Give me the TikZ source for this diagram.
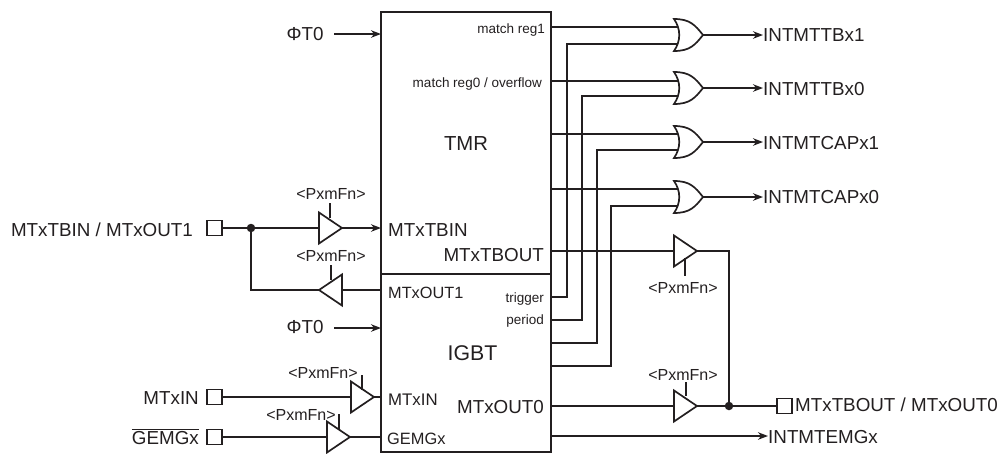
\documentclass[tikz,border=0pt]{standalone}
\usepackage{fontspec}
\setmainfont{Liberation Sans}
\usetikzlibrary{arrows.meta,shapes.geometric,calc}
\definecolor{ink}{HTML}{231F20}
\tikzset{
  x=1pt,y=-1pt,
  wire/.style={line width=1.7pt,draw=ink},
  arrowwire/.style={wire,-{Stealth[length=10pt,width=7.5pt]}},
  blockbox/.style={draw=ink,line width=2.2pt,rectangle,inner sep=0pt,outer sep=0pt,anchor=north west},
  pad/.style={draw=ink,fill=white,line width=1.7pt,rectangle,minimum size=15pt,inner sep=0pt,outer sep=0pt},
  dotjoint/.style={circle,fill=ink,inner sep=0pt,minimum size=8.5pt},
  buf/.style={draw=ink,fill=white,line width=1.7pt,isosceles triangle,isosceles triangle stretches,
    minimum width=31pt,minimum height=23pt,inner sep=0pt,outer sep=0pt,anchor=apex},
  bufR/.style={buf},
  bufL/.style={buf,shape border rotate=180},
  lab/.style={inner sep=0pt,text=ink,font=\fontsize{18.8}{20}\selectfont},
  labin/.style={lab,anchor=base west},
  labpx/.style={lab,font=\fontsize{16}{18}\selectfont,anchor=base},
  labsm/.style={lab,font=\fontsize{13.5}{15}\selectfont,anchor=base east},
  orbox/.style={rectangle,inner sep=0pt,outer sep=0pt,minimum width=29pt,minimum height=32pt},
}
\newcommand{\orgate}[3]{%
  \node[orbox] (#1) at (688.5,#2) {};
  \coordinate (#1a) at (678,#3);
  \coordinate (#1o) at (#1.east);
}
\newcommand{\orshape}[1]{%
  \draw[wire,fill=white,line width=1.7pt] (#1.north west) .. controls ($(#1.north west)+(16,0)$) and ($(#1.east)+(-8,-10)$) .. (#1.east)
   .. controls ($(#1.east)+(-8,10)$) and ($(#1.south west)+(16,0)$) .. (#1.south west)
   .. controls ($(#1.west)+(7,6)$) and ($(#1.west)+(7,-6)$) .. cycle;
}
\begin{document}
\begin{tikzpicture}
\useasboundingbox (0,0) rectangle (1005,453);
% blocks
\node[blockbox,minimum width=170pt,minimum height=262pt] (tmr) at (381,12) {};
\node[blockbox,minimum width=170pt,minimum height=178pt] (igbt) at (381,274) {};
\node[lab,anchor=base,font=\fontsize{20.3}{22}\selectfont] (tmrt) at (466,150.5) {TMR};
\node[lab,anchor=base,font=\fontsize{21.3}{23}\selectfont] (igbtt) at (472.5,360) {IGBT};
% block labels
\node[labsm] (m1) at (545,33) {match reg1};
\node[labsm] (m0) at (542,87) {match reg0 / overflow};
\node[labsm] (tr) at (544,302) {trigger};
\node[labsm] (pe) at (544,324) {period};
\node[labin] (ltbin) at (388,236) {MTxTBIN};
\node[lab,anchor=base east] (ltbout) at (544,261) {MTxTBOUT};
\node[labin,font=\fontsize{16.3}{18}\selectfont] (lout1) at (388,298) {MTxOUT1};
\node[labin,font=\fontsize{16.8}{18}\selectfont] (lin) at (388,405) {MTxIN};
\node[labin,font=\fontsize{16.4}{18}\selectfont] (lgem) at (387,444) {GEMGx};
\node[lab,anchor=base east] (lout0) at (544,413) {MTxOUT0};
% OR gates and inputs
\orgate{g1}{35}{27}
\orgate{g2}{88}{81}
\orgate{g3}{142}{134}
\orgate{g4}{197}{189}
\coordinate (g1b) at (678,44);
\coordinate (g2b) at (678,96);
\coordinate (g3b) at (678,150);
\coordinate (g4b) at (678,206);
\coordinate (t1) at (551,297);
\coordinate (t2) at (551,320);
\coordinate (t3) at (551,343);
\coordinate (t4) at (551,366);
\draw[wire] (g1a -| tmr.east) -- (g1a);
\draw[wire] (g2a -| tmr.east) -- (g2a);
\draw[wire] (g3a -| tmr.east) -- (g3a);
\draw[wire] (g4a -| tmr.east) -- (g4a);
\draw[wire] (t1) -| (567,44) -- (g1b);
\draw[wire] (t2) -| (582,96) -- (g2b);
\draw[wire] (t3) -| (597,150) -- (g3b);
\draw[wire] (t4) -| (611,206) -- (g4b);
\orshape{g1}\orshape{g2}\orshape{g3}\orshape{g4}
\node[labin] (o1) at (763,41) {INTMTTBx1};
\node[labin] (o2) at (763,95) {INTMTTBx0};
\node[labin] (o3) at (763,149) {INTMTCAPx1};
\node[labin] (o4) at (763,203) {INTMTCAPx0};
\draw[arrowwire] (g1.east) -- (g1.east -| o1.west);
\draw[arrowwire] (g2.east) -- (g2.east -| o2.west);
\draw[arrowwire] (g3.east) -- (g3.east -| o3.west);
\draw[arrowwire] (g4.east) -- (g4.east -| o4.west);
% clocks
\node[lab,anchor=base] (ck1) at (305,40) {ΦT0};
\node[lab,anchor=base] (ck2) at (305,333) {ΦT0};
\coordinate (ck1e) at (334,34);
\coordinate (ck2e) at (334,328);
\draw[arrowwire] (ck1e) -- (ck1e -| tmr.west);
\draw[arrowwire] (ck2e) -- (ck2e -| igbt.west);
% left side
\node[lab,anchor=base east] (ltb) at (193,236) {MTxTBIN / MTxOUT1};
\node[lab,anchor=base east] (lmi) at (199,404) {MTxIN};
\node[lab,anchor=base east] (lge) at (199,444) {$\overline{\mbox{GEMGx}}$};
\node[pad] (p1) at (214.5,228) {};
\node[pad] (p2) at (214.5,397) {};
\node[pad] (p3) at (214.5,437) {};
\node[bufR] (b1) at (342,228) {};
\node[bufL] (b2) at (319,290) {};
\node[bufR] (b3) at (374,397) {};
\node[bufR] (b4) at (350,437) {};
\node[dotjoint] (d1) at (251,228) {};
\draw[wire] (p1) -- (b1.lower side);
\draw[arrowwire] (b1.apex) -- (b1.apex -| tmr.west);
\draw[wire] (d1) |- (b2.apex);
\draw[wire] (b2.lower side) -- (b2.lower side -| igbt.west);
\draw[wire] (p2) -- (b3.lower side);
\draw[wire] (b3.apex) -- (b3.apex -| igbt.west);
\draw[wire] (p3) -- (b4.lower side);
\draw[wire] (b4.apex) -- (b4.apex -| igbt.west);
\node[labpx] (c1) at (331,199) {<PxmFn>};
\node[labpx] (c2) at (331,261) {<PxmFn>};
\node[labpx] (c3) at (323,378) {<PxmFn>};
\node[labpx] (c4) at (301,420) {<PxmFn>};
\coordinate (c1t) at (330,203);
\coordinate (c1b) at (330,218);
\coordinate (c2t) at (331,265);
\coordinate (c2b) at (331,280);
\coordinate (c3t) at (362,375);
\coordinate (c3b) at (362,390);
\coordinate (c4t) at (339,414);
\coordinate (c4b) at (339,430);
\draw[wire] (c1t) -- (c1b);
\draw[wire] (c2t) -- (c2b);
\draw[wire] (c3t) -- (c3b);
\draw[wire] (c4t) -- (c4b);
% right side
\node[bufR] (b5) at (697,251) {};
\node[bufR] (b6) at (697,406) {};
\node[dotjoint] (d2) at (729,406) {};
\node[pad] (p4) at (784.5,406) {};
\node[labin] (lbo) at (795,411) {MTxTBOUT / MTxOUT0};
\draw[wire] (b5.lower side -| tmr.east) -- (b5.lower side);
\draw[wire] (b6.lower side -| igbt.east) -- (b6.lower side);
\draw[wire] (b5.apex) -| (d2);
\draw[wire] (b6.apex) -- (p4);
\node[labpx] (c5) at (683,293) {<PxmFn>};
\node[labpx] (c6) at (683,380) {<PxmFn>};
\coordinate (c5t) at (685,258);
\coordinate (c5b) at (685,276);
\coordinate (c6t) at (686,382);
\coordinate (c6b) at (686,396);
\draw[wire] (c5t) -- (c5b);
\draw[wire] (c6t) -- (c6b);
% emergency output
\node[labin] (lem) at (768,443) {INTMTEMGx};
\coordinate (e1) at (551,436);
\draw[arrowwire] (e1) -- (e1 -| lem.west);
\end{tikzpicture}
\end{document}
